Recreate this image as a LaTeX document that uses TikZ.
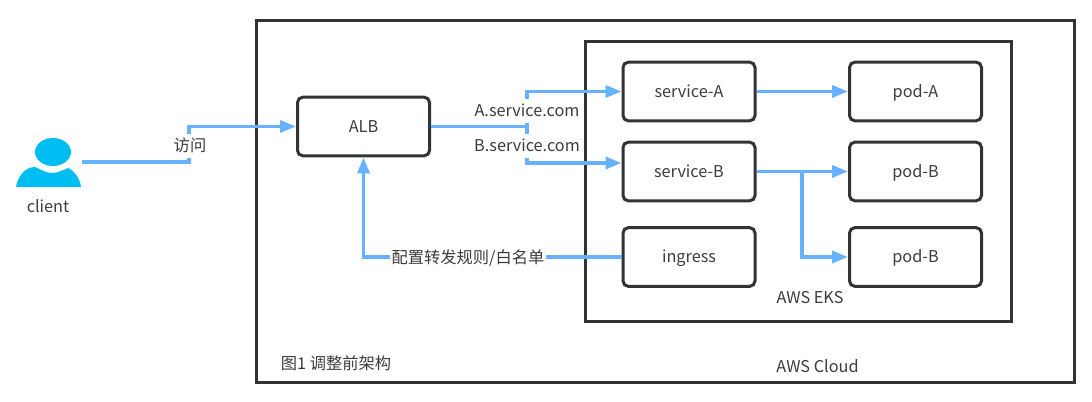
\documentclass[tikz,border=0pt]{standalone}
\usepackage{fontspec}
\setmainfont{Noto Sans CJK SC}[Scale=1]
\usetikzlibrary{calc,arrows.meta}
\definecolor{flowblue}{HTML}{66B2FF}
\definecolor{framegray}{HTML}{333333}
\definecolor{personblue}{HTML}{00BEF2}
\definecolor{labelgray}{HTML}{3C3C3C}
\def\drawframe{\draw[color=framegray, line width=2.25pt]}
\def\drawflow{\draw[color=flowblue, line width=2.5pt, -{Triangle[length=12pt,width=9pt]}]}
\def\drawstub{\draw[color=flowblue, line width=2.5pt]}
\def\boxnode{\node[draw=framegray,fill=white,line width=2.25pt,rounded corners=4pt,minimum width=99pt,minimum height=44pt,inner sep=0pt,text=labelgray,text height=10.5pt,text depth=1.5pt,font=\fontsize{12.2}{14}\selectfont]}
\def\textnode{\node[text=labelgray,inner sep=1pt,font=\fontsize{12.2}{14}\selectfont]}
\def\labelnode{\node[fill=white,text=labelgray,inner xsep=1.5pt,inner ysep=3pt,text height=10.5pt,text depth=1.5pt,font=\fontsize{12.2}{14}\selectfont]}

\begin{document}
\begin{tikzpicture}[x=0.75pt,y=-0.75pt]
\useasboundingbox (0,0) rectangle (1092,402);
\drawframe (256,21) rectangle (1074,383);
\drawframe (585,42) rectangle (1011,322);

% -------- client ---------
\coordinate (head) at (53,152);
\fill[personblue] (head) ellipse (18 and 14);
\fill[personblue] (16,187) .. controls (18,176) and (25,167) .. (35,167)
  .. controls (42,170) and (46,173) .. (52,173)
  .. controls (58,173) and (63,170) .. (68,168)
  .. controls (75,171) and (80,179) .. (81,187) -- cycle;
\textnode (client) at (48,206) {client};
\coordinate (clientout) at (82,162);

% -------- boxes ---------
\boxnode (alb) at (363.5,126.5) {ALB};
\boxnode (svca) at (689,91.5) {service-A};
\boxnode (svcb) at (689,171.5) {service-B};
\boxnode (ingress) at (689,257) {ingress};
\boxnode (poda) at (915.5,91.5) {pod-A};
\boxnode (podb) at (915.5,171.5) {pod-B};
\boxnode (podc) at (915.5,257) {pod-B};

% client to ALB
\coordinate (bend) at (189,162);
\drawflow (clientout) -- (bend) -- (bend |- alb.west) -- (alb.west);
\labelnode (visit) at (190,146) {访问};

% ALB to the services, the labels hide part of the riser
\coordinate (split) at (527,126.5);
\coordinate (bin) at ($ (svcb.west) + (0,-8.5) $);
\drawstub (alb.east) -- (split);
\drawflow (split) -- (split |- svca.west) -- (svca.west);
\drawflow (split) -- (split |- bin) -- (bin);
\labelnode (hosta) at (527,111) {A.service.com};
\labelnode (hostb) at (527,146) {B.service.com};

% service to pod
\drawflow (svca.east) -- (poda.west);
\drawflow (svcb.east) -- (podb.west);
\coordinate (fork) at (802,171.5);
\drawflow (fork) -- (fork |- podc.west) -- (podc.west);

% ingress back to ALB
\drawflow (ingress.west) -- (alb.south |- ingress.west) -- (alb.south);
\labelnode (rule) at (468,258) {配置转发规则/白名单};

% captions
\textnode (eks) at (810,298) {AWS EKS};
\textnode (cloud) at (817.5,366) {AWS Cloud};
\textnode (fig) at (336,363) {图1 调整前架构};
\end{tikzpicture}
\end{document}
